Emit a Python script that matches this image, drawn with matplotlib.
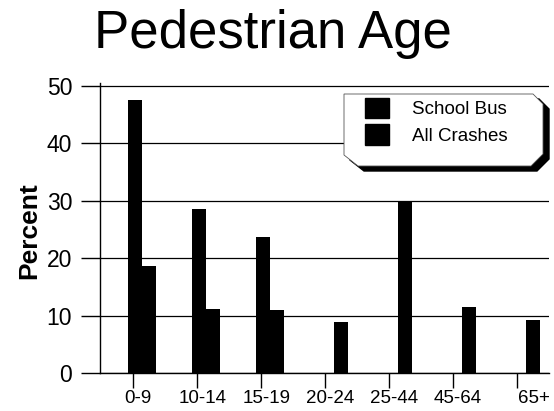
import numpy as np
import matplotlib.pyplot as plt
from matplotlib.patches import Patch, Polygon

plt.rcParams['font.family'] = ['Liberation Sans', 'DejaVu Sans']

# Data
age_groups = ['0-9', '10-14', '15-19', '20-24', '25-44', '45-64', '65+']
school_bus = [47.6, 28.5, 23.7, 0, 0, 0, 0]
all_crashes = [18.6, 11.1, 11.0, 8.9, 29.8, 11.5, 9.2]
y_ticks = [0, 10, 20, 30, 40, 50]

W, H = 554, 411
fig = plt.figure(figsize=(W / 100, H / 100), dpi=100)

# axes placed in pixel terms (y measured from top)
ax_l, ax_r, ax_t, ax_b = 100, 549, 83.1, 373
ax = fig.add_axes([ax_l / W, 1 - ax_b / H, (ax_r - ax_l) / W, (ax_b - ax_t) / H])

x = np.arange(len(age_groups))
bw = 0.22
ax.bar(x - 0.11, school_bus, bw, color='black', zorder=3)
ax.bar(x + 0.11, all_crashes, bw, color='black', zorder=3)

ax.set_xlim(-0.656, 6.36)
ax.set_ylim(0, 50.5)

# tick marks sit a little left of the labels
ax.set_xticks(x - 0.14)
ax.set_xticklabels([])
lab_off = np.array([0.08, 0.08, 0.08, 0.08, 0.08, 0.08, 0.27])
ax.set_xticks(x - 0.14 + lab_off, age_groups, minor=True)
ax.tick_params(axis='x', which='major', direction='out', length=11, width=1, color='black')
ax.tick_params(axis='x', which='minor', length=0, pad=12.5, labelsize=13.5)

ax.set_yticks(y_ticks)
ax.tick_params(axis='y', direction='out', length=14, width=1, pad=6, labelsize=16.5)
ax.yaxis.grid(True, color='black', linewidth=0.9, zorder=1)
ax.set_axisbelow(True)

for s in ['top', 'right']:
    ax.spines[s].set_visible(False)
ax.spines['left'].set_linewidth(1)
ax.spines['bottom'].set_linewidth(1)

ax.set_ylabel('Percent', fontsize=19, fontweight='bold')
ax.yaxis.set_label_coords(-0.131, 0.49)

fig.text(273 / W, 1 - 34 / H, 'Pedestrian Age', fontsize=38, ha='center', va='center')


def px(pts):
    return [(a / W, 1 - b / H) for a, b in pts]


# legend box with clipped corners and drop shadow
box = [(345, 94), (533, 94), (543, 104), (543, 154), (531, 166),
       (358, 166), (344, 155), (344, 94)]
shadow = [(a + 6, b + 5) for a, b in box]
fig.patches.append(Polygon(px(shadow), closed=True, transform=fig.transFigure,
                           facecolor='black', edgecolor='black', zorder=5))
fig.patches.append(Polygon(px(box), closed=True, transform=fig.transFigure,
                           facecolor='white', edgecolor='#555555', linewidth=0.6, zorder=6))

handles = [Patch(facecolor='black', edgecolor='black', label='School Bus'),
           Patch(facecolor='black', edgecolor='black', label='All Crashes')]
leg = fig.legend(handles=handles, loc='upper left', bbox_to_anchor=(365 / W, 1 - 98 / H),
                 frameon=False, fontsize=13.5, borderpad=0, borderaxespad=0,
                 handlelength=1.3, handleheight=1.3, handletextpad=1.2, labelspacing=0.3)
leg.set_zorder(7)

fig.savefig('out.png', dpi=100)
